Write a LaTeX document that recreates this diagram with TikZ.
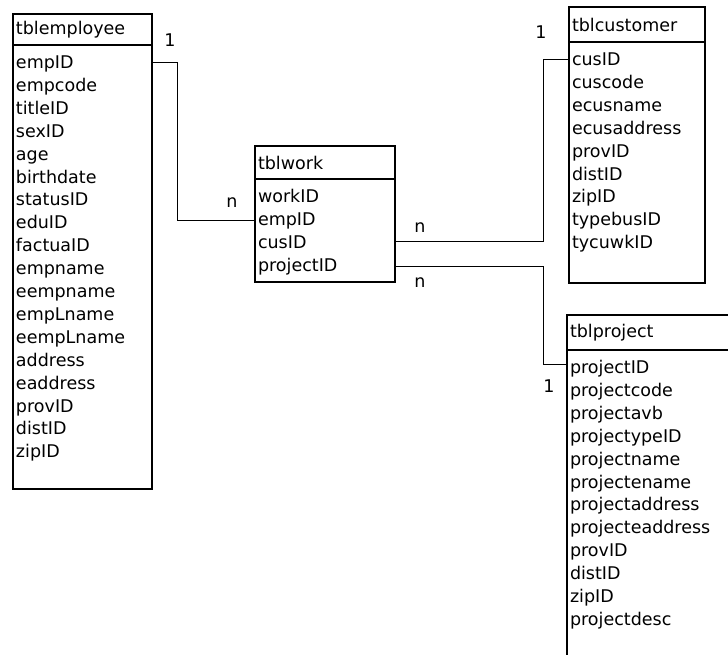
\documentclass[tikz,border=0pt]{standalone}
\usepackage{fontspec}
\setmainfont{DejaVu Sans}
\usetikzlibrary{positioning}

\begin{document}
\begin{tikzpicture}[x=1pt, y=-1pt, font=\fontsize{17.5}{22.9}\selectfont,
  thead/.style={draw, line width=1.6pt, outer sep=0pt, inner xsep=3pt, inner ysep=0pt, align=left, anchor=north west},
  tbody/.style={draw, line width=1.6pt, outer sep=0pt, inner xsep=3pt, inner ysep=5pt, align=left, anchor=north west, text height=18.5pt},
  link/.style={line width=0.8pt},
  card/.style={inner sep=0pt}]
\useasboundingbox (0,0) rectangle (728,654);
\clip (0,0) rectangle (728,654);
% tables
\node[thead, text width=133pt, minimum height=31pt] (employee) at (13,14) {tblemployee};
\node[tbody, text width=133pt, text depth=415.5pt] (employee-body) at (employee.south west) {empID\\empcode\\titleID\\sexID\\age\\birthdate\\statusID\\eduID\\factuaID\\empname\\eempname\\empLname\\eempLname\\address\\eaddress\\provID\\distID\\zipID};
\node[thead, text width=134pt, minimum height=33pt] (work) at (255,146) {tblwork};
\node[tbody, text width=134pt, text depth=74.5pt] (work-body) at (work.south west) {workID\\empID\\cusID\\projectID};
\node[thead, text width=130pt, minimum height=35pt] (customer) at (569,7) {tblcustomer};
\node[tbody, text width=130pt, text depth=212.5pt] (customer-body) at (customer.south west) {cusID\\cuscode\\ecusname\\ecusaddress\\provID\\distID\\zipID\\typebusID\\tycuwkID};
\node[thead, text width=180pt, minimum height=35pt] (project) at (567,315) {tblproject};
\node[tbody, text width=180pt, text depth=320pt] (project-body) at (project.south west) {projectID\\projectcode\\projectavb\\projectypeID\\projectname\\projectename\\projectaddress\\projecteaddress\\provID\\distID\\zipID\\projectdesc};
% relations
\draw[link] ([yshift=-17pt]employee-body.north east) -- ++(25,0) |- ([yshift=-41pt]work-body.north west);
\draw[link] ([yshift=-62pt]work-body.north east) -- ++(148,0) |- ([yshift=-17pt]customer-body.north west);
\draw[link] ([yshift=-87pt]work-body.north east) -- ++(148,0) |- ([yshift=-14pt]project-body.north west);
\node[card] (emp-one) at (170,40) {1};
\node[card] (emp-many) at (232,203) {n};
\node[card] (cus-one) at (541,32) {1};
\node[card] (cus-many) at (420,228) {n};
\node[card] (proj-many) at (420,283) {n};
\node[card] (proj-one) at (549,386) {1};
\end{tikzpicture}
\end{document}
